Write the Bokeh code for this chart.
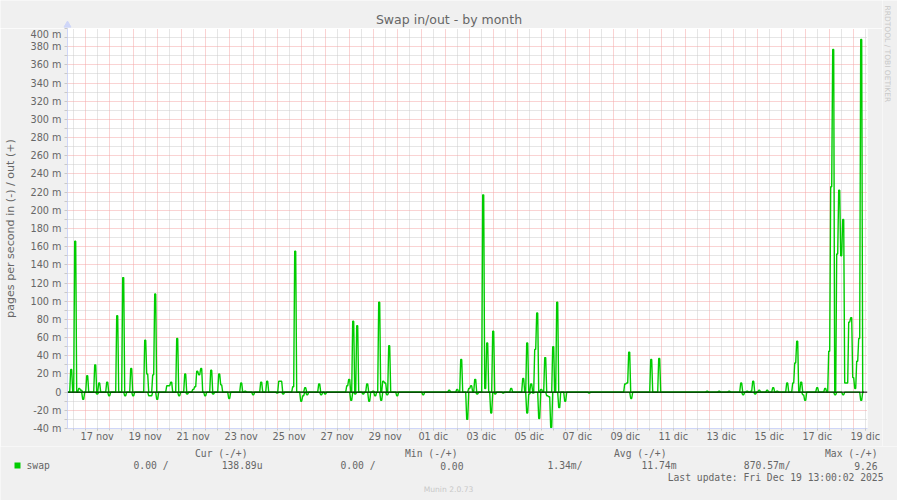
import numpy as np
from bokeh.plotting import figure
from bokeh.layouts import column, row
from bokeh.models import (Range1d, FixedTicker, Grid, Label, Span, ColumnDataSource,
                          BoxAnnotation)
from bokeh.embed import file_html
from bokeh.resources import INLINE

# ---------------- data (values in milli pages/s, time in hours from 17 nov 00:00) -------------
out_hours = [-14, -10, -6, -4, 2, 10, 14, 22, 32, 38, 46, 60, 62, 68, 70, 82, 84, 86, 92, 100,
             108, 110, 112, 114, 116, 126, 134, 136, 156, 160, 176, 182, 194, 196, 208, 210, 220,
             234, 262, 264, 268, 272, 282, 288, 294, 298, 300, 304, 364, 372, 376, 384, 386, 390,
             398, 400, 402, 408, 426, 438, 442, 446, 450, 452, 456, 460, 468, 472, 540, 542, 544,
             566, 574, 622, 634, 644, 656, 662, 666, 668, 674, 682, 688, 692, 702, 708, 710, 712,
             716, 732, 740, 744, 746, 748, 752, 754, 756, 758, 760, 762, 764, 766, 768, 770, 772,
             774, 776]
out_vals = [25, 166, 4, 2, 18, 30, 10, 11, 84, 126, 26, 57, 20, 19, 108, 7, 7, 11, 59, 20,
            3, 6, 23, 19, 26, 24, 20, 8, 10, 1, 11, 12, 12, 12, 6, 155, 5,
            9, 7, 14, 78, 73, 9, 1, 99, 12, 10, 51, 2, 3, 36, 4, 7, 14,
            217, 4, 54, 67, 4, 15, 54, 9, 47, 87, 3, 38, 50, 99, 9, 10, 44,
            36, 37, 1, 1, 1, 10, 1, 1, 12, 2, 2, 5, 1, 10, 10, 32, 56,
            11, 5, 4, 45, 226, 377, 152, 222, 150, 190, 10, 10, 77, 82, 16, 4, 34,
            59, 388]
in_hours = [-2, 12, 24, 40, 48, 64, 66, 72, 94, 102, 120, 128, 144, 168, 192, 198, 216, 218,
            222, 236, 240, 266, 270, 278, 284, 290, 296, 302, 312, 338, 382, 392, 406, 410, 418,
            442, 444, 448, 454, 462, 464, 466, 474, 480, 504, 546, 658, 670, 718, 720, 750, 758,
            776]
in_vals = [-8, -2, -4, -4, -4, -4, -4, -8, -4, -2, -4, -2, -7, -3, -1, -2, -10, -4,
           -3, -3, -2, -9, -2, -2, -10, -4, -9, -3, -4, -3, -30, -2, -23, -2, -1,
           -23, -2, -1, -29, -4, -5, -39, -17, -10, -1, -7, -3, -2, -3, -9, -3, -3,
           -9]
first_sample_hour = -18
last_sample_hour = 778
sample_step = 2

x_label_text = ["17 nov", "19 nov", "21 nov", "23 nov", "25 nov", "27 nov", "29 nov", "01 dic",
                "03 dic", "05 dic", "07 dic", "09 dic", "11 dic", "13 dic", "15 dic", "17 dic",
                "19 dic"]
y_tick_values = list(range(-40, 401, 20))
y_tick_text = ["0" if v == 0 else f"{v} m" for v in y_tick_values]

title_text = "Swap in/out - by month"
y_label_text = "pages per second in (-) / out (+)"
legend_header = ["Cur (-/+)", "Min (-/+)", "Avg (-/+)", "Max (-/+)"]
legend_name = "swap"
legend_values = ["0.00 /", "138.89u", "0.00 /", "0.00", "1.34m/", "11.74m", "870.57m/", "9.26"]
last_update = "Last update: Fri Dec 19 13:00:02 2025"
watermark = "RRDTOOL / TOBI OETIKER"
footer = "Munin 2.0.73"

# ---------------- build series ----------------
hours = np.arange(first_sample_hour, last_sample_hour + 1, sample_step)
out_series = np.zeros(len(hours))
in_series = np.zeros(len(hours))
for h, v in zip(out_hours, out_vals):
    out_series[(h - first_sample_hour) // sample_step] = v
for h, v in zip(in_hours, in_vals):
    in_series[(h - first_sample_hour) // sample_step] = v
# each 2-hour sample covers two pixel columns (rrdtool style)
half = np.tile([-0.5, 0.5], len(hours))
px_hours = np.repeat(hours, 2) + half
src = ColumnDataSource(dict(hour=px_hours, out=np.repeat(out_series, 2),
                            inn=np.repeat(in_series, 2)))

FONT = "#666666"
AXIS = "#CFD6F8"
GREEN = "#00cc00"
BACK = "#f0f0f0"
X0, X1 = -17.7, 782.3


def text_fig(w, h, x_start):
    f = figure(width=w, height=h, output_backend="svg", toolbar_location=None,
               x_range=Range1d(x_start, x_start + w), y_range=Range1d(h, 0),
               x_axis_type=None, y_axis_type=None, min_border=0, min_border_left=0,
               min_border_right=0, min_border_top=0, min_border_bottom=0,
               background_fill_color=BACK, border_fill_color=BACK, outline_line_color=None)
    f.grid.visible = False
    return f


def txt(f, text, x, y, align="left", font="DejaVu Sans Mono", size="9.7px", color=FONT,
        angle=0.0):
    f.add_layout(Label(x=x, y=y, text=text, text_align=align, text_baseline="middle",
                       text_font=font, text_font_size=size, text_color=color, angle=angle))


# ---------------- top strip (title + axis arrow) ----------------
top = text_fig(882, 28, 0)
txt(top, title_text, 448.5, 19, align="center", font="DejaVu Sans", size="12.5px")
top.scatter(x=[67], y=[24.6], marker="triangle", size=7, fill_color=AXIS, line_color=AXIS)

# ---------------- main chart ----------------
p = figure(width=882, height=418, output_backend="svg", toolbar_location=None,
           x_range=Range1d(X0, X1), y_range=Range1d(-40, 400),
           min_border_left=67, min_border_right=15, min_border_top=0, min_border_bottom=18,
           background_fill_color="white", border_fill_color=BACK, outline_line_color=None)
p.xgrid.visible = False
p.ygrid.visible = False

midnights = list(range(0, 781, 24))
noons = list(range(-12, 781, 24))
y_minor = list(range(-30, 400, 20))
GRAY_GRID = "#cccccc"
RED_GRID = "#f4a6a6"
p.add_layout(Grid(dimension=0, ticker=FixedTicker(ticks=noons), grid_line_color=GRAY_GRID,
                  grid_line_dash="1 1", grid_line_width=1))
p.add_layout(Grid(dimension=1, ticker=FixedTicker(ticks=y_minor), grid_line_color=GRAY_GRID,
                  grid_line_dash="1 1", grid_line_width=1))
p.add_layout(Grid(dimension=0, ticker=FixedTicker(ticks=midnights), grid_line_color=RED_GRID,
                  grid_line_dash="1 1", grid_line_width=1))
p.add_layout(Grid(dimension=1, ticker=FixedTicker(ticks=y_tick_values), grid_line_color=RED_GRID,
                  grid_line_dash="1 1", grid_line_width=1))

x_label_hours = [12 + 48 * i for i in range(len(x_label_text))]
p.xaxis.ticker = FixedTicker(ticks=x_label_hours, minor_ticks=noons + midnights)
p.xaxis.major_label_overrides = {h: t for h, t in zip(x_label_hours, x_label_text)}
p.yaxis.ticker = FixedTicker(ticks=y_tick_values, minor_ticks=y_minor)
p.yaxis.major_label_overrides = {v: t for v, t in zip(y_tick_values, y_tick_text)}

for ax in (p.xaxis[0], p.yaxis[0]):
    ax.axis_line_color = AXIS
    ax.major_label_text_font = "DejaVu Sans"
    ax.major_label_text_font_size = "9.7px"
    ax.major_label_text_color = FONT
    ax.major_tick_in = 0
    ax.minor_tick_in = 0
    ax.major_tick_line_color = "#c8c8c8"
    ax.minor_tick_line_color = "#c8c8c8"
p.xaxis.major_tick_out = 2
p.xaxis.minor_tick_out = 2
p.xaxis.major_label_standoff = 0
p.yaxis.major_tick_out = 3
p.yaxis.minor_tick_out = 3
p.yaxis.major_label_standoff = 3
p.yaxis.axis_label = y_label_text
p.yaxis.axis_label_text_font = "DejaVu Sans"
p.yaxis.axis_label_text_font_size = "11.1px"
p.yaxis.axis_label_text_font_style = "normal"
p.yaxis.axis_label_text_color = FONT
p.yaxis.axis_label_standoff = 10

p.line("hour", "out", source=src, line_color=GREEN, line_width=1.4)
p.line("hour", "inn", source=src, line_color=GREEN, line_width=1.4)
p.add_layout(Span(location=0, dimension="width", line_color="black", line_width=1))

# ---------------- right strip (watermark) ----------------
side = text_fig(15, 446, 882)
txt(side, watermark, 887, 5, align="left", font="DejaVu Sans", size="7.5px", color="#c8c8c8",
    angle=-np.pi / 2)

# ---------------- legend strip (page y from 446) ----------------
leg = text_fig(897, 54, 0)
for t, rx in zip(legend_header, [247, 457, 666, 877]):
    txt(leg, t, rx, 6.5, align="right")
txt(leg, legend_name, 26, 19)
for t, rx in zip(legend_values, [168, 262, 375, 463, 582, 676, 790, 877]):
    txt(leg, t, rx, 19, align="right")
txt(leg, last_update, 883, 30.7, align="right")
txt(leg, footer, 448, 43, align="center", font="DejaVu Sans", size="7.6px", color="#c8c8c8")
leg.add_layout(BoxAnnotation(left=14, right=20, top=16, bottom=22, fill_color=GREEN,
                             fill_alpha=1, line_color=None))

left_stack = column(row(top, spacing=0), p, spacing=0)
layout = column(row(left_stack, side, spacing=0), leg, spacing=0)
open("out.html", "w").write(file_html(layout, INLINE))
